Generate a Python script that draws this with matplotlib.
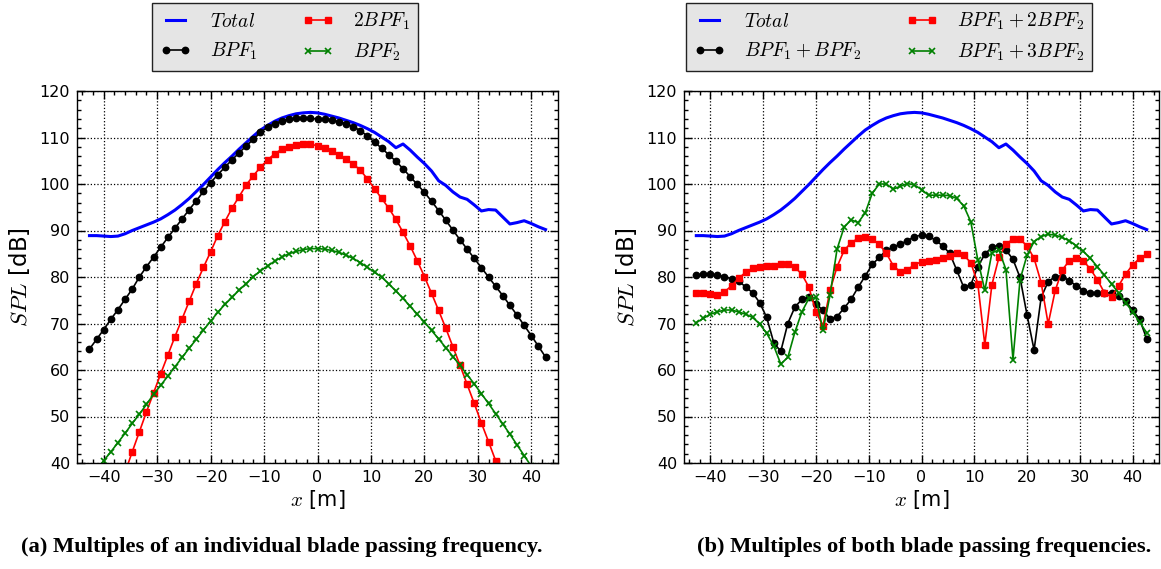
import numpy as np
import matplotlib
matplotlib.use("Agg")
import matplotlib.pyplot as plt
from matplotlib.ticker import MultipleLocator

plt.rcParams['font.family'] = ['DejaVu Sans']
plt.rcParams['mathtext.fontset'] = 'cm'

# x positions of the microphones [m]
x = np.arange(-32, 33) * 4.0 / 3.0

total = [88.9, 88.9, 88.8, 88.7, 88.8, 89.3, 90.0, 90.6, 91.2, 91.8, 92.5, 93.4, 94.4,
         95.6, 96.9, 98.4, 99.9, 101.5, 103.1, 104.6, 106.0, 107.5, 108.9, 110.3, 111.6,
         112.6, 113.5, 114.2, 114.7, 115.1, 115.3, 115.4, 115.3, 115.0, 114.6, 114.2,
         113.7, 113.2, 112.6, 111.9, 111.1, 110.1, 109.1, 107.8, 108.6, 107.3, 105.8,
         104.4, 102.8, 100.7, 99.7, 98.3, 97.2, 96.7, 95.5, 94.2, 94.5, 94.4, 92.9, 91.4,
         91.7, 92.1, 91.5, 90.8, 90.2]

bpf1 = [64.5, 66.6, 68.7, 70.9, 73.0, 75.2, 77.4, 80.0, 82.2, 84.3, 86.4, 88.5, 90.5,
        92.5, 94.5, 96.4, 98.4, 100.3, 102.0, 103.6, 105.2, 106.7, 108.2, 109.6, 111.1,
        112.2, 113.0, 113.6, 113.9, 114.1, 114.1, 114.1, 114.0, 113.9, 113.7, 113.4,
        113.0, 112.3, 111.5, 110.3, 109.0, 107.7, 106.3, 104.9, 103.3, 101.6, 99.9,
        98.2, 96.3, 94.3, 92.2, 90.1, 88.0, 86.0, 84.0, 82.0, 80.0, 78.0, 76.0, 73.9,
        71.8, 69.6, 67.4, 65.1, 62.8]

bpf1_2 = [14.0, 19.0, 24.0, 28.8, 33.5, 38.0, 42.4, 46.7, 51.0, 55.1, 59.2, 63.2, 67.2,
          71.0, 74.8, 78.6, 82.1, 85.4, 88.9, 91.9, 94.8, 97.3, 99.8, 101.8, 103.6,
          105.2, 106.5, 107.5, 108.0, 108.4, 108.6, 108.6, 108.2, 107.7, 107.0, 106.2,
          105.3, 104.3, 103.0, 101.1, 99.0, 96.9, 94.8, 92.4, 89.6, 86.7, 83.5, 80.1,
          76.5, 72.8, 69.0, 65.0, 61.0, 56.9, 52.8, 48.6, 44.6, 40.5, 36.3, 32.0, 27.6,
          23.1, 18.5, 13.8, 9.0]

bpf2 = [36.5, 38.5, 40.5, 42.4, 44.4, 46.4, 48.5, 50.5, 52.6, 54.8, 56.7, 58.7, 60.7,
        62.7, 64.7, 66.6, 68.6, 70.5, 72.4, 74.1, 75.6, 77.2, 78.6, 80.1, 81.3, 82.4,
        83.4, 84.3, 85.0, 85.5, 85.9, 86.1, 86.1, 86.0, 85.7, 85.3, 84.7, 84.0, 83.1,
        82.1, 81.0, 80.0, 78.5, 77.0, 75.4, 73.7, 72.0, 70.3, 68.5, 66.7, 64.8, 62.9,
        61.0, 59.0, 57.0, 54.9, 52.8, 50.6, 48.4, 46.2, 43.9, 41.6, 39.3, 37.0, 34.7]

mix_11 = [80.4, 80.6, 80.6, 80.4, 80.1, 79.6, 79.1, 77.9, 76.6, 74.5, 71.3, 65.9, 64.0,
          70.0, 73.5, 75.2, 75.6, 74.3, 72.8, 71.0, 71.5, 73.3, 75.2, 77.8, 80.2, 82.7,
          84.2, 85.8, 86.4, 87.1, 87.8, 88.7, 89.0, 88.8, 87.9, 86.7, 85.1, 81.5, 77.8,
          78.3, 82.2, 84.9, 86.4, 86.7, 85.8, 83.8, 79.9, 71.8, 64.3, 75.6, 79.0, 80.1,
          80.1, 79.2, 78.1, 77.0, 76.6, 76.6, 76.6, 76.6, 75.9, 74.8, 72.9, 70.9, 66.7]

mix_12 = [76.6, 76.6, 76.3, 76.1, 76.8, 78.1, 79.7, 81.0, 81.9, 82.2, 82.4, 82.4, 82.7,
          82.7, 82.1, 80.6, 77.8, 72.5, 69.5, 77.1, 82.2, 85.7, 87.4, 88.3, 88.5, 88.1,
          87.0, 85.1, 82.4, 81.1, 81.6, 82.6, 83.3, 83.5, 83.7, 84.0, 84.5, 85.1, 84.7,
          83.1, 78.6, 65.4, 78.3, 84.2, 87.1, 88.1, 88.1, 86.7, 84.0, 78.8, 69.9, 77.1,
          81.5, 83.5, 84.0, 83.5, 81.7, 79.4, 76.6, 75.7, 78.1, 80.6, 82.6, 84.0, 84.9]

mix_13 = [70.2, 71.1, 72.0, 72.5, 72.9, 72.9, 72.5, 72.0, 71.3, 69.9, 67.9, 65.2, 61.3,
          62.7, 68.1, 72.5, 75.4, 75.6, 68.5, 76.1, 86.0, 90.7, 92.3, 91.7, 93.8, 98.0,
          100.0, 100.0, 98.9, 99.5, 100.1, 99.8, 98.8, 97.6, 97.6, 97.6, 97.5, 96.9, 95.3,
          91.9, 83.7, 77.1, 85.2, 85.8, 81.6, 62.2, 79.4, 84.7, 87.6, 88.7, 89.2, 89.0,
          88.5, 87.8, 86.7, 85.5, 84.0, 82.2, 80.4, 78.5, 76.6, 74.5, 72.5, 70.3, 68.0]

W, H = 1161, 569
fig = plt.figure(figsize=(W / 100, H / 100), dpi=100)
axL = fig.add_axes([77 / W, 1 - 463 / H, 481 / W, 372 / H])
axR = fig.add_axes([684 / W, 1 - 463 / H, 475 / W, 372 / H])

blue = dict(color='#0000ff', lw=2.2)
blk = dict(color='black', lw=1.2, marker='o', ms=4.6, mec='black')
red = dict(color='#ff0000', lw=1.2, marker='s', ms=3.8, mec='#ff0000')
grn = dict(color='#008000', lw=1.2, marker='x', ms=4.6, mew=1.2)

axL.plot(x, total, label=r'$Total$', **blue)
axL.plot(x, bpf1, label=r'$BPF_1$', **blk)
axL.plot(x, bpf1_2, label=r'$2BPF_1$', **red)
axL.plot(x, bpf2, label=r'$BPF_2$', **grn)

axR.plot(x, total, label=r'$Total$', **blue)
axR.plot(x, mix_11, label=r'$BPF_1+BPF_2$', **blk)
axR.plot(x, mix_12, label=r'$BPF_1+2BPF_2$', **red)
axR.plot(x, mix_13, label=r'$BPF_1+3BPF_2$', **grn)

for ax in (axL, axR):
    ax.set_xlim(-45, 45)
    ax.set_ylim(40, 120)
    ax.xaxis.set_major_locator(MultipleLocator(10))
    ax.xaxis.set_minor_locator(MultipleLocator(2))
    ax.yaxis.set_major_locator(MultipleLocator(10))
    ax.yaxis.set_minor_locator(MultipleLocator(2))
    ax.tick_params(which='both', direction='in', top=True, right=True, width=1)
    ax.tick_params(which='major', length=6, labelsize=11.5, pad=5)
    ax.tick_params(which='minor', length=3)
    ax.grid(True, which='major', color='black', linestyle=':', linewidth=0.9)
    for s in ax.spines.values():
        s.set_linewidth(1.0)
    ax.set_xlabel(r'$x$ [m]', fontsize=15, labelpad=2)
    ax.set_ylabel(r'$SPL$ [dB]', fontsize=16.5, labelpad=5)

legkw = dict(loc='upper left', ncol=2, fontsize=14, fancybox=False, framealpha=1,
             facecolor='#e5e5e5', edgecolor='#222222', borderaxespad=0,
             handlelength=1.6, handletextpad=1.0, columnspacing=2.3, numpoints=2)
legL = axL.legend(bbox_to_anchor=(75 / 481, 1 + 88 / 372), **legkw)
legR = axR.legend(bbox_to_anchor=(2 / 475, 1 + 88 / 372), **legkw)
for lg in (legL, legR):
    lg.get_frame().set_linewidth(1.0)

capkw = dict(ha='center', va='center', fontweight='bold', fontsize=16.2,
             family=['Liberation Serif', 'DejaVu Serif'])
fig.text(282 / W, 1 - 547 / H, '(a) Multiples of an individual blade passing frequency.', **capkw)
fig.text(924 / W, 1 - 547 / H, '(b) Multiples of both blade passing frequencies.', **capkw)

fig.savefig('out.png', dpi=100)
